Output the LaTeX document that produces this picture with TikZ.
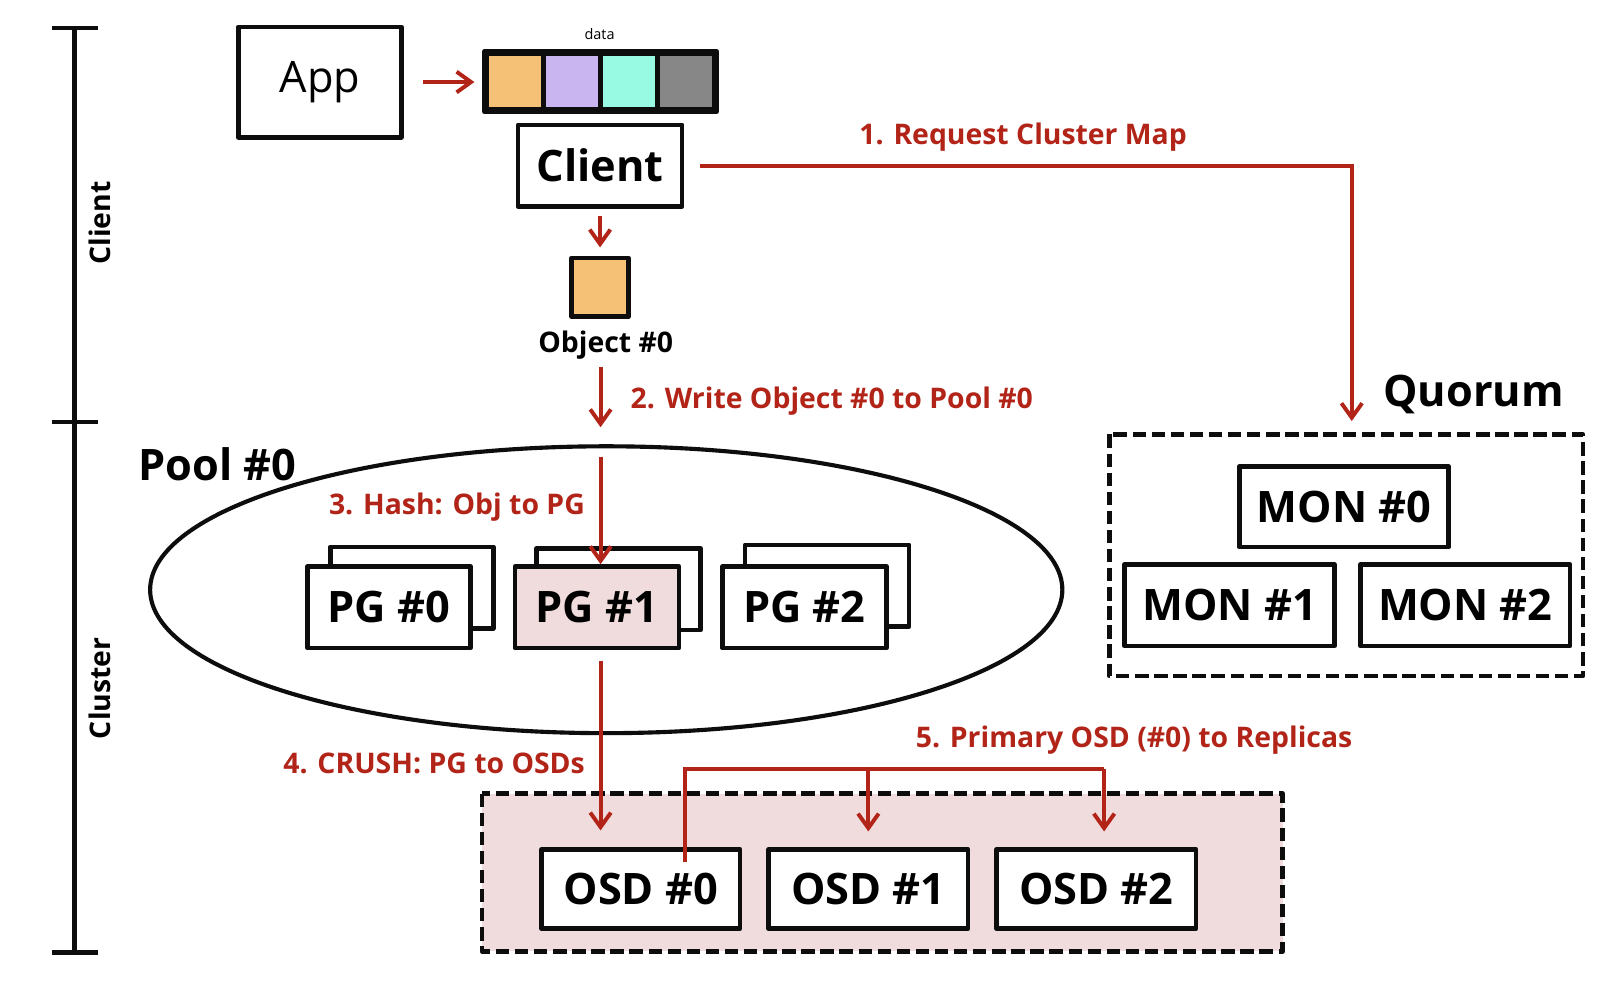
\documentclass[tikz,border=0pt]{standalone}
\usepackage{fontspec}
\setmainfont{Open Sans}
\usetikzlibrary{arrows.meta,shapes.geometric}
\definecolor{cred}{HTML}{B22418}
\definecolor{cpink}{HTML}{F0DCDC}
\definecolor{corange}{HTML}{F5C176}
\definecolor{clav}{HTML}{C9B6F0}
\definecolor{caqua}{HTML}{98FAE3}
\definecolor{cgray}{HTML}{878787}
\definecolor{cblack}{HTML}{0D0D0D}
\begin{document}
\begin{tikzpicture}[x=1pt,y=-1pt,
  box/.style={draw=cblack, line width=4.5pt, fill=white, inner sep=0pt, line join=round,
    font=\bfseries\fontsize{42}{48}\selectfont},
  cell/.style={draw=cblack, line width=4.5pt, inner sep=0pt, minimum width=55pt, minimum height=54pt, line join=round},
  dashbox/.style={draw=cblack, line width=4.5pt, dash pattern=on 13pt off 5.5pt, line join=round},
  arr/.style={draw=cred, line width=3.8pt, -{Straight Barb[length=14pt,width=20pt,line width=3.8pt]}},
  redline/.style={draw=cred, line width=3.8pt},
  redlabel/.style={text=cred, font=\bfseries\fontsize{27.5}{32}\selectfont, inner sep=0pt},
  biglabel/.style={font=\bfseries\fontsize{42}{48}\selectfont, inner sep=0pt},
  sidelabel/.style={font=\bfseries\fontsize{27.5}{32}\selectfont, inner sep=0pt, rotate=90}
]
\useasboundingbox[fill=white] (0,0) rectangle (1568,952);

% side scale bar
\coordinate (bt) at (72,27);
\coordinate (bm) at (72,409);
\coordinate (bb) at (72,923);
\draw[line width=4.5pt, draw=cblack] (bt) -- (bb);
\draw[line width=4.5pt, draw=cblack] ([xshift=-22pt]bt) -- ([xshift=23pt]bt);
\draw[line width=4.5pt, draw=cblack] ([xshift=-22pt]bm) -- ([xshift=23pt]bm);
\draw[line width=4.5pt, draw=cblack] ([xshift=-22pt]bb) -- ([xshift=23pt]bb);
\node[sidelabel] (lclient) at (97,216) {Client};
\node[sidelabel] (lcluster) at (97,667) {Cluster};

% App and data
\node[box, minimum width=158pt, minimum height=107pt, font=\fontsize{42}{48}\selectfont] (app) at (310,79.5) {\raisebox{-3pt}{App}};
\node[cell, fill=corange] (d1) at (499.5,79) {};
\node[cell, fill=clav] (d2) at (554.5,79) {};
\node[cell, fill=caqua] (d3) at (609.5,79) {};
\node[cell, fill=cgray] (d4) at (664.5,79) {};
\draw[line width=5pt, draw=cblack, line join=round] (d1.north west) rectangle (d4.south east);
\node[font=\fontsize{14}{16}\selectfont, inner sep=0pt] (datalbl) at (581,33) {data};
\draw[arr, shorten <=19pt, shorten >=10pt] (app.east) -- (app.east -| d1.west);

% Client
\node[box, minimum width=159pt, minimum height=79pt, font=\bfseries\fontsize{42}{48}\selectfont] (client) at (581.5,160.5) {Client};
\node[cell, fill=corange, minimum width=55pt, minimum height=57pt] (obj) at (581.5,278.5) {};
\node[font=\bfseries\fontsize{27.5}{32}\selectfont, inner sep=0pt] (objlbl) at (587,334) {Object \#0};
\draw[arr, shorten <=7pt, shorten >=8pt] (client.south) -- (obj.north);

% Pool
\node[ellipse, draw=cblack, line width=4pt, minimum width=884pt, minimum height=278pt, inner sep=0pt] (pool) at (587.5,571.5) {};
\node[biglabel] (poollbl) at (211,450) {Pool \#0};
\coordinate (w0) at (582,356);
\coordinate (w1) at (582,414);
\draw[arr] (w0) -- (w1);
\node[redlabel, anchor=west] (l2) at (611,389) {2. Write Object \#0 to Pool \#0};

\node[box, minimum width=158pt, minimum height=79pt] (pg0b) at (399,569.5) {};
\node[box, minimum width=158pt, minimum height=79pt] (pg0) at (377,588.5) {PG \#0};
\node[box, minimum width=159pt, minimum height=79pt] (pg1b) at (599.5,571) {};
\node[box, minimum width=159pt, minimum height=79pt, fill=cpink] (pg1) at (578.5,588.5) {PG \#1};
\node[box, minimum width=159pt, minimum height=79pt] (pg2b) at (801.5,567.5) {};
\node[box, minimum width=159pt, minimum height=79pt] (pg2) at (779.5,588.5) {PG \#2};
\draw[arr, shorten <=12pt] ([xshift=3.5pt]pg1.north |- pool.north) -- ([xshift=3.5pt]pg1.north);
\node[redlabel, anchor=east] (l3) at (567,491) {3. Hash: Obj to PG};

% Quorum
\draw[dashbox] (1075,421) rectangle (1534,655);
\coordinate (qtop) at (1310,421);
\node[biglabel] (quorum) at (1428,382) {Quorum};
\node[box, minimum width=203pt, minimum height=78pt] (mon0) at (1302.5,491) {MON \#0};
\node[box, minimum width=203pt, minimum height=79pt] (mon1) at (1191.5,586.5) {MON \#1};
\node[box, minimum width=203pt, minimum height=79pt] (mon2) at (1420,586.5) {MON \#2};
\draw[arr, shorten <=15pt, shorten >=13pt] (client.east) -| (qtop);
\node[redlabel] (l1) at (991.5,133) {1. Request Cluster Map};

% OSDs
\draw[dashbox, fill=cpink] (467,769) rectangle (1243,922);
\node[box, minimum width=192pt, minimum height=77pt] (osd0) at (621,861.5) {OSD \#0};
\node[box, minimum width=193pt, minimum height=77pt] (osd1) at (841.5,861.5) {OSD \#1};
\node[box, minimum width=193pt, minimum height=77pt] (osd2) at (1062.5,861.5) {OSD \#2};
\draw[arr, shorten <=10pt, shorten >=16pt] ([xshift=3.5pt]pg1.south) -- ([xshift=3.5pt]pg1.south |- osd0.north);
\node[redlabel, anchor=east] (l4) at (567,740) {4. CRUSH: PG to OSDs};

\coordinate (rj) at (664,745);
\coordinate (rk) at (1070,745);
\draw[redline, line join=miter] ([xshift=43pt,yshift=-15pt]osd0.north) -- (rj) -- (rk);
\draw[arr, shorten >=15pt] (rj -| osd1.north) -- (osd1.north);
\draw[arr, shorten >=15pt] (rk) -- ([xshift=7.5pt]osd2.north);
\node[redlabel] (l5) at (1099,717) {5. Primary OSD (\#0) to Replicas};
\end{tikzpicture}
\end{document}
